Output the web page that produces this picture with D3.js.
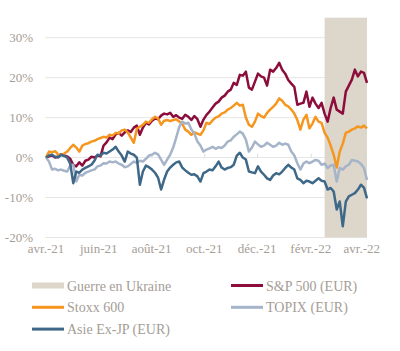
<!DOCTYPE html>
<html>

<head>
	<title>Performance des indices</title>
	<meta charset="utf-8">
	<script src="https://cdn.jsdelivr.net/npm/d3@7"></script>
</head>

<style>
	body {
		margin: 0;
		background: #fff;
	}
	text {
		font-family: "Liberation Serif", serif;
		fill: #a59d96;
	}
	.grid line {
		stroke: #e6e6e6;
		stroke-width: 1;
	}
	.serie {
		fill: none;
		stroke-width: 2.5;
		stroke-linejoin: round;
	}
</style>

<body>
	<svg width="400" height="351"></svg>

	<script>
		// performance cumulée en %, un point toutes les demi-semaines (84 h)
		var debut = "2021-04-01";
		var fin = "2022-04-07";
		var guerre = ["2022-02-17", "2022-04-07"];

		var sp500 = [
			0, 0.3, 0.5, 0, 0.3, 0.8, 0.5, 0.3, -0.3, -1.8,
			-2.2, -1.2, -2, -0.8, -0.5, 0.2, 0, 0.5, 0.3, 3,
			3.8, 5, 4.6, 5.8, 6.2, 5.5, 6.3, 6.8, 6.4, 7.5,
			8, 5.7, 7.5, 8.7, 8.3, 9.2, 9.8, 9.6, 10.5, 11,
			10.8, 11.2, 10.2, 10.6, 10, 9.7, 10.7, 10.2, 9.4, 10.4,
			9.6, 7.7, 9.5, 10.7, 11.5, 12.5, 13.5, 14, 15, 15.5,
			16.5, 17, 18.7, 18.2, 20.7, 20.5, 21.5, 17.5, 17, 19,
			21, 20.3, 20, 18, 22, 21.5, 22.4, 23.7, 22, 21,
			19.4, 18.5, 17.7, 13.2, 13.5, 13.7, 16.5, 12.7, 15, 13.5,
			12.4, 13.7, 11, 9, 12.4, 15, 12, 11.5, 11, 16.5,
			18, 19.5, 22, 20.3, 21.5, 21.2, 18.7];
		var stoxx = [
			0, 1.5, 1.3, 1.6, 0.8, 0.7, 1, 1.5, 2.4, 3.2,
			2.5, 1.5, 3, 3.4, 3.6, 4, 4.2, 4.6, 4.9, 5.2,
			5, 5.7, 5.5, 6.2, 6, 6.8, 7, 6.3, 5, 3.7,
			7.2, 7.7, 8.2, 9, 8.7, 9.6, 10.2, 9.8, 8.2, 9.2,
			9.4, 9.1, 9.4, 9.6, 9, 8.4, 7, 6.5, 5.7, 6.3,
			6, 5.7, 6.8, 8.7, 8.4, 9.3, 10, 10.3, 11, 11.3,
			12, 12.4, 13, 13.7, 13, 13.2, 10, 8.2, 7.7, 9,
			11, 10.4, 10, 11.2, 12, 12.7, 13.5, 14.8, 14.2, 13.2,
			12.8, 12, 11, 9.4, 7, 9.5, 10.7, 7.3, 8.5, 10.2,
			9, 8.7, 6.2, 5, 3, 0.7, -2.5, 1.5, 3.5, 6.2,
			6.5, 7, 7.3, 7.8, 7.5, 8, 7.3];
		var topix = [
			0, -1, -3, -2.8, -3.2, -3, -3.3, -3.5, -2, -1.8,
			-6, -4.3, -4.5, -3.8, -3.5, -3.2, -3, -2.2, -2, -1.4,
			-1.5, -1, -1.2, -1, -1.5, -1.8, -2.4, -2.2, -1.6, -1,
			-1.3, -0.8, -1, -0.3, 0.5, 0.7, 1.2, 0.8, -0.5, -1.8,
			-0.5, 0.7, 2.5, 5, 7.7, 9, 8.5, 8.7, 7, 6,
			4, 3, 1.5, 2, 2.3, 2.7, 2.2, 2.6, 2.4, 3,
			4, 4.3, 5.2, 5.8, 6.5, 6, 4.5, 1.5, 2.5, 4,
			3.3, 2.7, 3, 3.7, 3.2, 2.7, 3, 3.7, 3.2, 3.5,
			3.2, 1.5, 0.5, -1.4, -3, -1.5, -1, -1.4, -1, -0.6,
			-0.8, -1.8, -1.5, -2.6, -2, -1.8, -6, -2.6, -3, -2.2,
			-1.8, -0.6, -0.8, -1, -1.6, -2.6, -5.6];
		var asie = [
			0, 0.5, 0.7, 0.2, 0, 0.7, 0.4, 0, -1.5, -6.4,
			-3.5, -3.8, -3, -2.6, -2.2, -1.8, -0.8, 0.7, 0.5, 1.2,
			1, 1.5, 2, 2.7, 1.5, 0.5, -1, 1.5, 1, 0.7,
			0, -6.8, -3.5, -2, -2.4, -3, -3.8, -5, -8, -5.5,
			-3.5, -2.5, -1.8, -1.2, -1, -2.5, -3.2, -3.8, -4.3, -4.2,
			-4.7, -6, -3.9, -3.5, -3, -3.2, -2.2, -1, -2.5, -3,
			-2.6, -2.4, -1.8, 0.5, 1.2, 0, -0.5, -3.5, -3.7, -3.9,
			-2.2, -3.5, -4.3, -5.2, -5.6, -4.5, -3.9, -4.2, -3.5, -2.6,
			-1.8, -2.5, -3, -5.2, -5.6, -6.4, -5.8, -6, -6.4, -5.8,
			-5.2, -5.8, -6, -8, -7.6, -8.5, -13, -11, -17.2, -11,
			-9.7, -9.3, -8.9, -8, -6.8, -7.5, -10.2];

		var series = [
			{ nom: "S&P 500 (EUR)", valeurs: sp500, couleur: "#8c0d3b" },
			{ nom: "Stoxx 600", valeurs: stoxx, couleur: "#f5961f" },
			{ nom: "TOPIX (EUR)", valeurs: topix, couleur: "#a5b4c8" },
			{ nom: "Asie Ex-JP (EUR)", valeurs: asie, couleur: "#3e6888" }
		];

		var yTicks = [-20, -10, 0, 10, 20, 30];
		var xTicks = ["2021-04-01", "2021-06-01", "2021-08-01", "2021-10-01", "2021-12-01", "2022-02-01", "2022-04-01"];
		var xLabels = ["avr.-21", "juin-21", "août-21", "oct.-21", "déc.-21", "févr.-22", "avr.-22"];

		var parse = d3.timeParse("%Y-%m-%d");
		var t0 = parse(debut);
		var dates = sp500.map(function(d, i) {
			return d3.timeHour.offset(t0, i * 84);
		});

		var svg = d3.select("svg");

		var x = d3.scaleTime()
			.domain([t0, parse(fin)])
			.range([46, 367]);

		var y = d3.scaleLinear()
			.domain([-20, 35])
			.range([237.5, 17.7]);

		// grille horizontale
		svg.append("g")
			.attr("class", "grid")
			.selectAll("line")
			.data(yTicks)
			.enter()
			.append("line")
			.attr("x1", 45)
			.attr("x2", 367)
			.attr("y1", function(d) { return y(d); })
			.attr("y2", function(d) { return y(d); });

		// période de guerre
		svg.append("rect")
			.attr("x", x(parse(guerre[0])))
			.attr("width", x(parse(guerre[1])) - x(parse(guerre[0])))
			.attr("y", y(35))
			.attr("height", y(-20) - y(35))
			.attr("fill", "#ddd6cb");

		// axe des y
		svg.append("g")
			.selectAll("text")
			.data(yTicks)
			.enter()
			.append("text")
			.attr("x", 33)
			.attr("y", function(d) { return y(d) + 4.5; })
			.attr("text-anchor", "end")
			.attr("font-size", 13)
			.text(function(d) { return d + "%"; });

		// axe des x posé sur la ligne 0%
		var xAxis = d3.axisTop(x)
			.tickValues(xTicks.map(parse))
			.tickSize(4)
			.tickFormat("");

		svg.append("g")
			.attr("transform", "translate(0," + y(0) + ")")
			.call(xAxis)
			.call(function(g) { g.select(".domain").remove(); })
			.selectAll("line")
			.attr("stroke", "#dcdcdc");

		svg.append("g")
			.selectAll("text")
			.data(xTicks)
			.enter()
			.append("text")
			.attr("x", function(d) { return x(parse(d)); })
			.attr("y", 253)
			.attr("text-anchor", "middle")
			.attr("font-size", 13)
			.text(function(d, i) { return xLabels[i]; });

		// courbes
		var ligne = d3.line()
			.x(function(d, i) { return x(dates[i]); })
			.y(function(d) { return y(d); });

		svg.append("g")
			.selectAll("path")
			.data(series)
			.enter()
			.append("path")
			.attr("class", "serie")
			.attr("stroke", function(d) { return d.couleur; })
			.attr("d", function(d) { return ligne(d.valeurs); });

		// légende
		var legende = [
			{ nom: "Guerre en Ukraine", couleur: "#ddd6cb", epaisseur: 6 }
		].concat(series.map(function(s) {
			return { nom: s.nom, couleur: s.couleur, epaisseur: 3 };
		}));

		var item = svg.append("g")
			.selectAll("g")
			.data(legende)
			.enter()
			.append("g")
			.attr("transform", function(d, i) {
				return "translate(" + (i % 2 ? 231 : 32) + "," + (285.5 + Math.floor(i / 2) * 21.8) + ")";
			});

		item.append("line")
			.attr("x1", 0)
			.attr("x2", 32)
			.attr("stroke", function(d) { return d.couleur; })
			.attr("stroke-width", function(d) { return d.epaisseur; });

		item.append("text")
			.attr("x", 35)
			.attr("y", 5)
			.attr("font-size", 14)
			.text(function(d) { return d.nom; });
	</script>
</body>

</html>
